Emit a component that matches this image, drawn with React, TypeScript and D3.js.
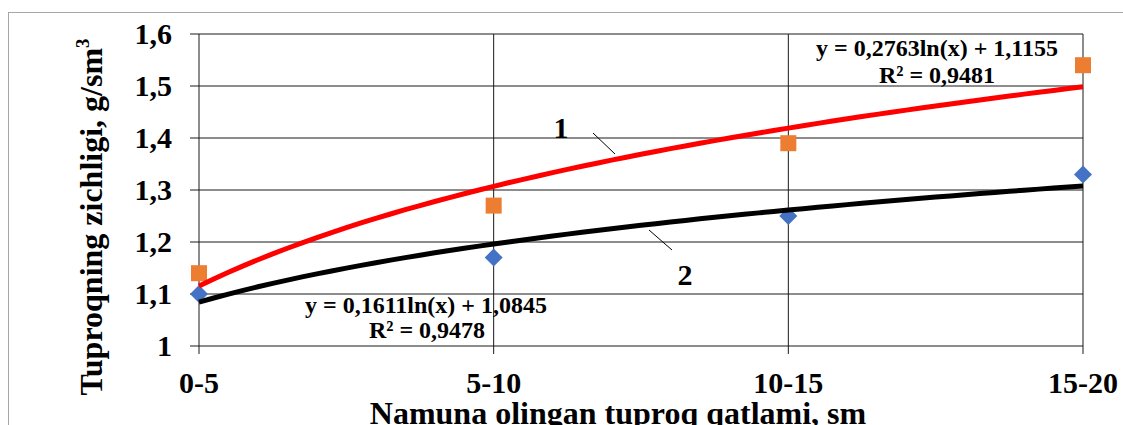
import { useMemo } from 'react';
import * as d3 from 'd3';

const CATEGORIES = ['0-5', '5-10', '10-15', '15-20'];
const SERIES1 = [1.14, 1.27, 1.39, 1.54];
const SERIES2 = [1.1, 1.17, 1.25, 1.33];
const Y_TICKS = [1, 1.1, 1.2, 1.3, 1.4, 1.5, 1.6];
// displayed log trendline coefficients: y = a*ln(x) + b
const TREND1 = { a: 0.2763, b: 1.1155, label: 'y = 0,2763ln(x) + 1,1155', r2: 'R² = 0,9481' };
const TREND2 = { a: 0.1611, b: 1.0845, label: 'y = 0,1611ln(x) + 1,0845', r2: 'R² = 0,9478' };

const W = 1123;
const H = 425;
const margin = { top: 34, left: 199, right: 40, bottom: 79 };
const FONT = '"Liberation Serif", "Times New Roman", serif';

export default function App() {
  const x = d3.scalePoint<string>().domain(CATEGORIES).range([margin.left, W - margin.right]);
  const xi = d3.scaleLinear().domain([1, CATEGORIES.length]).range([margin.left, W - margin.right]);
  const y = d3.scaleLinear().domain([1, 1.6]).range([H - margin.bottom, margin.top]);

  const trendPath = (t: { a: number; b: number }) => {
    const pts = d3.range(1, CATEGORIES.length + 0.001, 0.05);
    return d3.line<number>().x(d => xi(d)).y(d => y(t.a * Math.log(d) + t.b))(pts) ?? '';
  };

  const p1 = useMemo(() => trendPath(TREND1), []);
  const p2 = useMemo(() => trendPath(TREND2), []);
  const fmt = (v: number) => (v === 1 ? '1' : v.toFixed(1).replace('.', ','));

  const x0 = margin.left;
  const x1 = W - margin.right;
  const yb = H - margin.bottom;

  return (
    <svg width={W} height={H} style={{ position: 'absolute', left: 0, top: 0, background: '#fff' }} fontFamily={FONT}>
      <rect x={8.5} y={12.5} width={W} height={H} fill="none" stroke="#a6a6a6" />

      {/* horizontal grid */}
      {Y_TICKS.map(v => (
        <line key={v} x1={x0 - 9} x2={x1} y1={y(v)} y2={y(v)} stroke="#1a1a1a" strokeWidth={1} />
      ))}
      {/* vertical grid */}
      {CATEGORIES.map(c => (
        <line key={c} x1={x(c)} x2={x(c)} y1={margin.top} y2={yb + 8} stroke="#1a1a1a" strokeWidth={1} />
      ))}

      {/* y tick labels */}
      {Y_TICKS.map(v => (
        <text key={v} x={x0 - 27} y={y(v) + 10} textAnchor="end" fontSize={30} fontWeight="bold">
          {fmt(v)}
        </text>
      ))}
      {/* x tick labels */}
      {CATEGORIES.map(c => (
        <text key={c} x={x(c)} y={yb + 47} textAnchor="middle" fontSize={30} fontWeight="bold">
          {c}
        </text>
      ))}

      {/* markers */}
      {SERIES1.map((v, i) => (
        <rect key={i} x={x(CATEGORIES[i])! - 8} y={y(v) - 8} width={16} height={16} fill="#ed7d31" />
      ))}
      {SERIES2.map((v, i) => (
        <path
          key={i}
          d={`M${x(CATEGORIES[i])},${y(v) - 9}l9,9l-9,9l-9,-9z`}
          fill="#4472c4"
        />
      ))}

      {/* trendlines */}
      <path d={p2} fill="none" stroke="#000" strokeWidth={5} />
      <path d={p1} fill="none" stroke="#ff0000" strokeWidth={5} />

      {/* trendline equations */}
      <g fontSize={24} fontWeight="bold" textAnchor="middle">
        <text x={937} y={56}>{TREND1.label}</text>
        <text x={937} y={83}>{TREND1.r2}</text>
        <text x={426} y={313}>{TREND2.label}</text>
        <text x={427} y={338}>{TREND2.r2}</text>
      </g>

      {/* curve numbers */}
      <text x={561} y={138} textAnchor="middle" fontSize={30} fontWeight="bold">1</text>
      <line x1={593} y1={133} x2={615} y2={154} stroke="#000" strokeWidth={1} />
      <text x={685} y={285} textAnchor="middle" fontSize={30} fontWeight="bold">2</text>
      <line x1={649} y1={230} x2={672} y2={250} stroke="#000" strokeWidth={1} />

      {/* axis titles */}
      <text
        transform={`translate(102, 217) rotate(-90)`}
        textAnchor="middle"
        fontSize={32}
        fontWeight="bold"
      >
        Tuproqning zichligi, g/sm<tspan fontSize={19} dy={-13}>3</tspan>
      </text>
      <text x={618} y={424} textAnchor="middle" fontSize={32} fontWeight="bold">
        Namuna olingan tuproq qatlami, sm
      </text>
    </svg>
  );
}
